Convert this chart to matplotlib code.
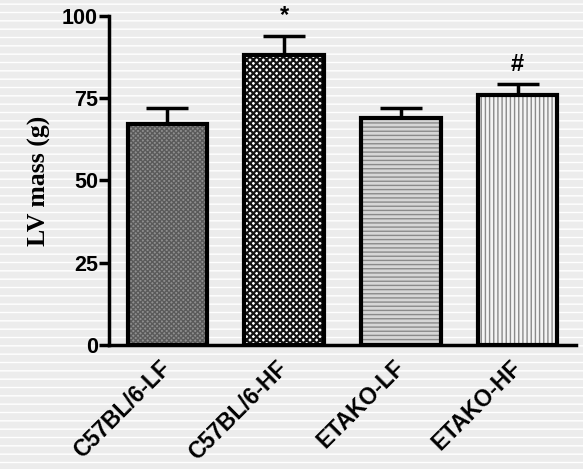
import matplotlib
matplotlib.use("Agg")
import matplotlib.pyplot as plt
from matplotlib.patches import Rectangle

categories = ["C57BL/6-LF", "C57BL/6-HF", "ETAKO-LF", "ETAKO-HF"]
values = [67, 88, 69, 76]
errors = [5, 6, 3, 3.3]
marks = ["", "*", "", "#"]
yticks = [0, 25, 50, 75, 100]

face_colors = ["#8e8e8e", "#ffffff", "#d6d6d6", "#f4f4f4"]
hatch_colors = ["#5a5a5a", "#111111", "#8a8a8a", "#8a8a8a"]
hatches = ["xxxxxxx", "xxxxx", "----", "||||"]
hatch_lws = [1.0, 1.6, 1.0, 1.0]

fig = plt.figure(figsize=(5.83, 4.69), dpi=100)
fig.patch.set_facecolor("#ececec")
with plt.rc_context({"hatch.linewidth": 1.0}):
    bg = Rectangle((0, 0), 1, 1, transform=fig.transFigure, facecolor="#ececec",
                   edgecolor="#ffffff", hatch="--", linewidth=0, zorder=-10)
fig.add_artist(bg)

ax = fig.add_axes([0.187, 0.2644, 0.801, 0.702])
ax.set_facecolor("none")
x = list(range(len(categories)))
w = 0.68

for i in x:
    with plt.rc_context({"hatch.linewidth": hatch_lws[i]}):
        ax.bar(i, values[i], width=w, color=face_colors[i], edgecolor=hatch_colors[i],
               hatch=hatches[i], linewidth=0, zorder=2)
ax.bar(x, values, width=w, fill=False, edgecolor="black", linewidth=3, zorder=3)
ax.errorbar(x, values, yerr=[[0]*4, errors], fmt="none", ecolor="black",
            elinewidth=2.5, capsize=15, capthick=2.5, zorder=1)

for i in x:
    if marks[i]:
        ax.text(i, values[i] + errors[i] + 2.5, marks[i], ha="center", va="bottom",
                fontsize=17, fontweight="bold", family="Liberation Sans")

ax.set_xlim(-0.5, 3.5)
ax.set_ylim(0, 100)
ax.set_yticks(yticks)
ax.set_yticklabels([str(t) for t in yticks], fontsize=15.5, fontweight="bold",
                   family="Liberation Sans")
ax.tick_params(axis="y", length=7, width=2.5, pad=1)
ax.tick_params(axis="x", length=0, pad=14)
ax.set_xticks(x)
ax.set_xticklabels(categories, rotation=45, ha="right", va="center",
                   rotation_mode="anchor", fontsize=16.5, fontweight="bold",
                   family="Liberation Sans")
for s in ["top", "right"]:
    ax.spines[s].set_visible(False)
for s in ["left", "bottom"]:
    ax.spines[s].set_linewidth(2.5)
ax.set_ylabel("LV mass (g)", fontsize=18.5, fontweight="bold",
              family="Liberation Serif", labelpad=8)

fig.savefig("out.png", dpi=100, facecolor=fig.get_facecolor())
